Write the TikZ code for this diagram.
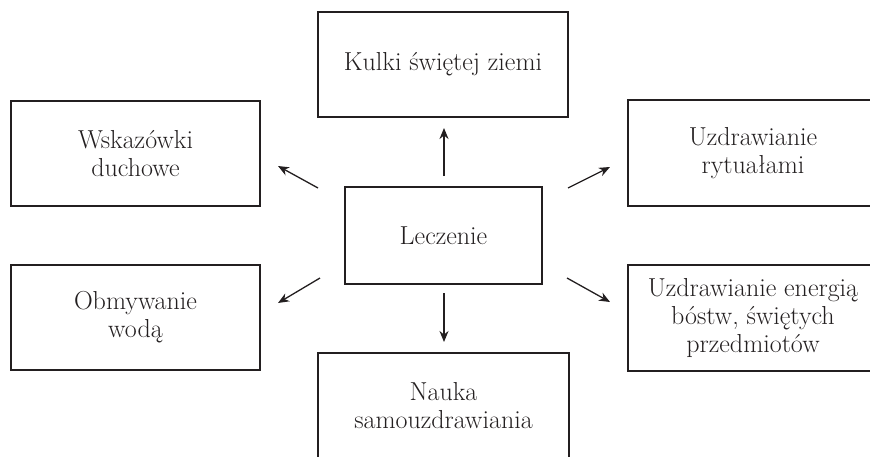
\documentclass[tikz,border=0pt]{standalone}
\usepackage{fontspec}
\usetikzlibrary{arrows.meta}
\definecolor{ink}{HTML}{231F20}
\tikzset{
  box/.style={draw=ink, line width=1.3pt, rectangle, inner sep=0pt, align=center,
    text=ink, font=\fontsize{26}{28}\selectfont},
  conn/.style={draw=ink, line width=1.3pt, -{Stealth[length=11pt,width=9pt,inset=3.5pt]}}
}
\begin{document}
\begin{tikzpicture}[x=1pt,y=-1pt]
\useasboundingbox (0,0) rectangle (870,456);
\clip (0,0) rectangle (870,456);
\node[box, minimum width=250pt, minimum height=105pt] (top) at (443,64.5) {Kulki świętej ziemi};
\node[box, minimum width=197pt, minimum height=97pt] (c) at (443.5,235.5) {Leczenie};
\node[box, minimum width=251pt, minimum height=106pt] (bot) at (443.5,406) {Nauka\\samouzdrawiania};
\node[box, minimum width=249pt, minimum height=105pt] (lu) at (135.5,153.5) {Wskazówki\\duchowe};
\node[box, minimum width=249pt, minimum height=105pt] (ll) at (135.5,317.5) {Obmywanie\\wodą};
\node[box, minimum width=250pt, minimum height=106pt] (ru) at (753,153) {Uzdrawianie\\rytuałami};
\node[box, minimum width=250pt, minimum height=106pt] (rl) at (753,318) {Uzdrawianie energią\\bóstw, świętych\\przedmiotów};
\coordinate (uA) at (444,176); \coordinate (uB) at (444,128);
\coordinate (dA) at (444,293); \coordinate (dB) at (444,342);
\coordinate (luA) at (318,188); \coordinate (luB) at (278,166);
\coordinate (ruA) at (568,188); \coordinate (ruB) at (610,167);
\coordinate (llA) at (320,278); \coordinate (llB) at (278,303);
\coordinate (rlA) at (567,278); \coordinate (rlB) at (610,302);
\draw[conn] (uA) -- (uB);
\draw[conn] (dA) -- (dB);
\draw[conn] (luA) -- (luB);
\draw[conn] (ruA) -- (ruB);
\draw[conn] (llA) -- (llB);
\draw[conn] (rlA) -- (rlB);
\end{tikzpicture}
\end{document}
